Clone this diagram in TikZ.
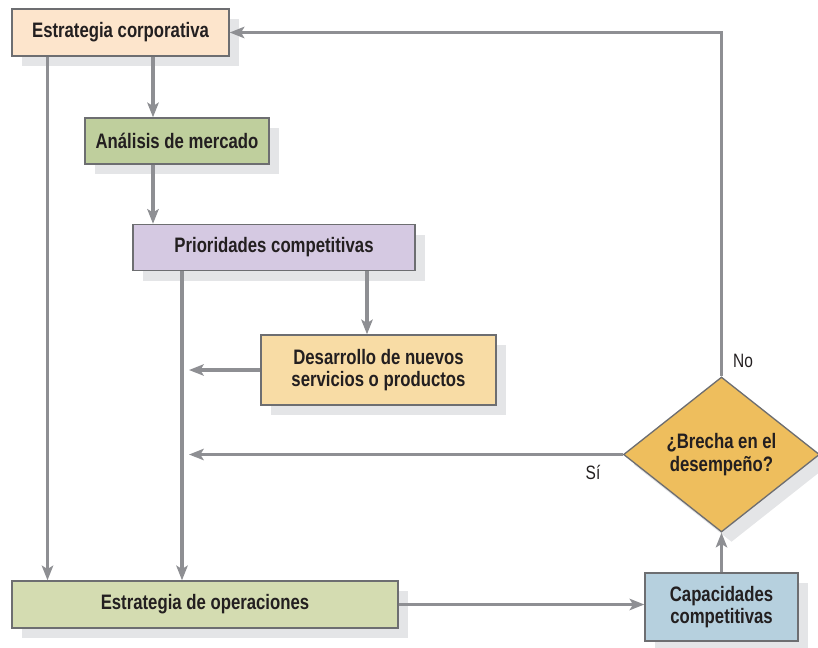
\documentclass[tikz,border=0pt]{standalone}
\usepackage{fontspec}
\setmainfont{Liberation Sans}[FakeStretch=0.8]
\usepackage{tikz}
\usetikzlibrary{arrows.meta,shapes.geometric,shadows}
\usetikzlibrary{positioning}

\definecolor{ink}{HTML}{231F20}
\definecolor{boxline}{HTML}{6D6E71}
\definecolor{flowgray}{HTML}{8E8F93}
\definecolor{shadowgray}{HTML}{E4E5E7}
\definecolor{corpfill}{HTML}{FDE5CC}
\definecolor{mercfill}{HTML}{BFCF9D}
\definecolor{priofill}{HTML}{D5C9E2}
\definecolor{desafill}{HTML}{F8DCA5}
\definecolor{operfill}{HTML}{D4DCB1}
\definecolor{capafill}{HTML}{B6D0DE}
\definecolor{brecfill}{HTML}{EEBE5D}

\tikzset{
  procbox/.style={draw=boxline, line width=1pt, text=ink, align=center, inner sep=0pt,
    font=\fontsize{15.7}{17}\selectfont\bfseries,
    drop shadow={shadow xshift=7.5pt, shadow yshift=-7.5pt, fill=shadowgray, opacity=1}},
  flow/.style={draw=flowgray, line width=2.6pt, -{Stealth[length=11pt,width=8.5pt,inset=2.5pt]}},
  lbl/.style={text=ink, inner sep=0.75pt, font=\fontsize{14.5}{16}\selectfont},
}

\begin{document}
\begin{tikzpicture}[x=0.75pt,y=0.75pt,yscale=-1,xscale=1]
  \useasboundingbox (0,0) rectangle (818,647);

  %Shape: Rectangle [id:corp]
  \node [procbox, fill=corpfill, minimum width=162.75pt, minimum height=35.25pt] (corp) at (120.5,32.5) {Estrategia corporativa};
  %Shape: Rectangle [id:merc]
  \node [procbox, fill=mercfill, minimum width=138pt, minimum height=34.5pt] (merc) at (177,141) {Análisis de mercado};
  %Shape: Rectangle [id:prio]
  \node [procbox, fill=priofill, minimum width=211.5pt, minimum height=34.5pt] (prio) at (274,247.5) {Prioridades competitivas};
  %Shape: Rectangle [id:desa]
  \node [procbox, fill=desafill, minimum width=176.25pt, minimum height=52.5pt] (desa) at (378.5,370) {Desarrollo de nuevos\\servicios o productos};
  %Shape: Rectangle [id:oper]
  \node [procbox, fill=operfill, minimum width=289.5pt, minimum height=35.25pt] (oper) at (205,604.5) {Estrategia de operaciones};
  %Shape: Rectangle [id:capa]
  \node [procbox, fill=capafill, minimum width=114.75pt, minimum height=51pt] (capa) at (721.5,607) {Capacidades\\competitivas};
  %Shape: Diamond [id:brec]
  \node [procbox, diamond, aspect=1.26, fill=brecfill, minimum width=147pt, minimum height=116.25pt] (brec) at (721.5,454.5) {¿Brecha en el\\desempeño?};

  % Text Node
  \node [lbl] (nolbl) at (743,361) {No};
  % Text Node
  \node [lbl] (silbl) at (593,472) {Sí};

  % rails
  \coordinate (leftrail) at (47.5,0);
  \coordinate (midrail) at (153,0);
  \coordinate (priorail) at (182,0);
  \coordinate (desarail) at (367,0);
  \coordinate (feedend) at (189,0);

  \draw [flow] (leftrail |- corp.south) -- (leftrail |- oper.north);
  \draw [flow] (midrail |- corp.south) -- (midrail |- merc.north);
  \draw [flow] (midrail |- merc.south) -- (midrail |- prio.north);
  \draw [flow] (priorail |- prio.south) -- (priorail |- oper.north);
  \draw [flow] (desarail |- prio.south) -- (desarail |- desa.north);
  \draw [flow] (desa.west) -- (feedend |- desa.west);
  \draw [flow] (brec.west) -- (feedend |- brec.west);
  \draw [flow] (oper.east) -- (oper.east -| capa.west);
  \draw [flow] (capa.north) -- (brec.south);
  \draw [flow] (brec.north) |- (corp.east);

\end{tikzpicture}
\end{document}
